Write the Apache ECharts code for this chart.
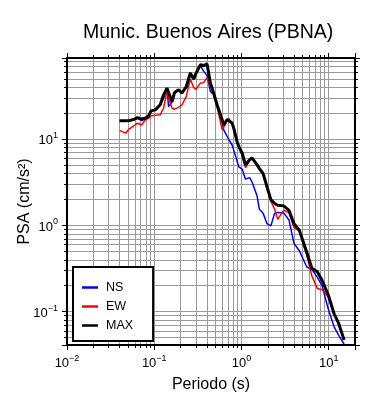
<!DOCTYPE html>
<html>
<head>
<meta charset="utf-8">
<script src="https://cdn.jsdelivr.net/npm/echarts@6/dist/echarts.min.js"></script>
<style>
  html, body { margin: 0; padding: 0; background: #fff; }
  #psa { width: 390px; height: 400px; }
</style>
</head>
<body>
<div id="psa"></div>
<script>
// periods (s) and spectral accelerations (cm/s2)
var periods = [0.040, 0.047, 0.051, 0.058, 0.064, 0.072, 0.079, 0.086, 0.092, 0.103,
  0.117, 0.128, 0.140, 0.146, 0.160, 0.171, 0.190, 0.208, 0.233, 0.259,
  0.283, 0.300, 0.338, 0.368, 0.403, 0.44, 0.48, 0.525, 0.60, 0.625,
  0.685, 0.713, 0.78, 0.815, 0.89, 0.93, 1.02, 1.11, 1.24, 1.32,
  1.51, 1.6, 1.77, 1.96, 2.17, 2.4, 2.6, 3.05, 3.5, 4.0,
  4.6, 5.6, 6.4, 7.4, 8.4, 9.8, 11.5, 13, 15];

var nsVals = [16.2, 16.2, 16.3, 16.8, 17.5, 16.5, 17.3, 18.5, 21, 22,
  25, 30, 39, 24, 27, 34.5, 37, 34, 40, 58,
  50, 57, 72, 62, 55, 36, 33, 25, 16, 12.9,
  10.8, 10, 8.6, 7.5, 5.6, 4.8, 4.5, 3.45, 3.6, 3.2,
  2.2, 1.55, 1.39, 1.05, 0.99, 1.39, 1.42, 1.4, 1.16, 0.62,
  0.51, 0.33, 0.31, 0.25, 0.2, 0.11, 0.067, 0.053, 0.042];

var ewVals = [12.7, 11.8, 13.1, 14.3, 15.4, 14.7, 16.9, 17.5, 18.8, 19,
  19.3, 23, 36, 30, 23, 22.4, 23.5, 25.2, 31.5, 50,
  40, 38, 45, 45.5, 52, 41, 33, 24, 12.9, 13.5,
  16.4, 17.5, 15.3, 13.3, 9.3, 8.2, 6.4, 4.7, 5.7, 6.0,
  5.0, 4.5, 3.9, 2.8, 1.9, 1.55, 1.18, 1.51, 1.4, 0.95,
  0.86, 0.45, 0.26, 0.186, 0.18, 0.15, 0.095, 0.072, 0.047];

var maxVals = [16.4, 16.4, 16.5, 17.0, 17.9, 17.3, 17.6, 18.7, 21.4, 22,
  25.2, 32.9, 39.4, 35, 27.5, 35, 37.7, 34.5, 41, 59,
  50, 58, 73.5, 72, 75, 45, 34.4, 25.2, 16.9, 14.7,
  17, 17.9, 15.5, 13.5, 9.4, 8.3, 6.9, 5.05, 5.8, 6.1,
  5.05, 4.6, 4.0, 2.82, 2.0, 1.8, 1.72, 1.69, 1.5, 1.05,
  0.88, 0.49, 0.32, 0.29, 0.23, 0.16, 0.095, 0.073, 0.047];

var seriesNames = ['NS', 'EW', 'MAX'];
var seriesColors = ['#0000ff', '#ff0000', '#000000'];

var FONT = 'Liberation Sans';

function pairs(vals) {
  return periods.map(function (t, i) { return [t, vals[i]]; });
}

// only label whole decades, as 10^n
function decadeLabel(v) {
  var e = Math.log10(v);
  if (Math.abs(e - Math.round(e)) > 1e-6) return '';
  e = Math.round(e);
  return '{b|10}{s|' + (e < 0 ? '\u2212' + (-e) : e) + '}';
}

var labelRich = {
  b: { fontFamily: FONT, fontSize: 13, color: '#000', lineHeight: 16, verticalAlign: 'bottom' },
  s: { fontFamily: FONT, fontSize: 9, color: '#000', lineHeight: 16, verticalAlign: 'top' }
};

var gridColor = '#9a9a9a';

function logAxis(min, max, opts) {
  var ax = {
    type: 'log',
    logBase: 10,
    min: min,
    max: max,
    axisLine: { show: true, onZero: false, lineStyle: { color: '#000', width: 2 } },
    axisTick: { show: true, inside: false, length: 5, lineStyle: { color: '#000', width: 1 } },
    minorTick: { show: true, splitNumber: 9, length: 3, lineStyle: { color: '#000', width: 1 } },
    axisLabel: { show: false },
    splitLine: { show: false },
    minorSplitLine: { show: false }
  };
  return Object.assign(ax, opts);
}

var chart = echarts.init(document.getElementById('psa'), null, { renderer: 'canvas' });

chart.setOption({
  backgroundColor: '#fff',
  animation: false,
  title: {
    text: 'Munic. Buenos Aires (PBNA)',
    left: 83,
    top: 23,
    padding: 0,
    textStyle: { fontFamily: FONT, fontSize: 19.5, fontWeight: 'normal', color: '#000' }
  },
  grid: { left: 67, right: 35, top: 58, bottom: 55, containLabel: false },
  legend: {
    orient: 'vertical',
    left: 73,
    top: 267,
    padding: [14, 20, 9, 9],
    itemGap: 6,
    itemWidth: 16,
    itemHeight: 2.5,
    backgroundColor: '#fff',
    borderColor: '#000',
    borderWidth: 2,
    borderRadius: 0,
    textStyle: { fontFamily: FONT, fontSize: 12.5, color: '#000', padding: [0, 0, 0, 3] },
    data: seriesNames.map(function (n, i) {
      return { name: n, icon: 'rect', itemStyle: { color: seriesColors[i] } };
    })
  },
  xAxis: [
    logAxis(0.01, 20, {
      position: 'bottom',
      name: 'Periodo (s)',
      nameLocation: 'middle',
      nameGap: 32,
      nameMoveOverlap: false,
      nameTextStyle: { fontFamily: FONT, fontSize: 16, color: '#000' },
      axisLabel: { show: true, margin: 9, formatter: decadeLabel, rich: labelRich, showMinLabel: true, showMaxLabel: false },
      splitLine: { show: true, lineStyle: { color: gridColor, width: 1 } },
      minorSplitLine: { show: true, lineStyle: { color: gridColor, width: 1 } }
    }),
    logAxis(0.01, 20, { position: 'top' })
  ],
  yAxis: [
    logAxis(0.041, 88, {
      position: 'left',
      name: 'PSA (cm/s\u00b2)',
      nameLocation: 'middle',
      nameGap: 34,
      nameMoveOverlap: false,
      nameTextStyle: { fontFamily: FONT, fontSize: 16, color: '#000' },
      axisLabel: { show: true, margin: 9, formatter: decadeLabel, rich: labelRich, showMinLabel: false, showMaxLabel: false },
      splitLine: { show: true, lineStyle: { color: gridColor, width: 1 } },
      minorSplitLine: { show: true, lineStyle: { color: gridColor, width: 1 } }
    }),
    logAxis(0.041, 88, { position: 'right' })
  ],
  series: [
    { name: 'NS', type: 'line', data: pairs(nsVals) },
    { name: 'EW', type: 'line', data: pairs(ewVals) },
    { name: 'MAX', type: 'line', data: pairs(maxVals) }
  ].map(function (s, i) {
    s.xAxisIndex = 0;
    s.yAxisIndex = 0;
    s.symbol = 'none';
    s.silent = true;
    s.lineStyle = { color: seriesColors[i], width: i === 2 ? 3 : 1.5 };
    s.itemStyle = { color: seriesColors[i] };
    s.z = 2 + i;
    return s;
  })
});
</script>
</body>
</html>
